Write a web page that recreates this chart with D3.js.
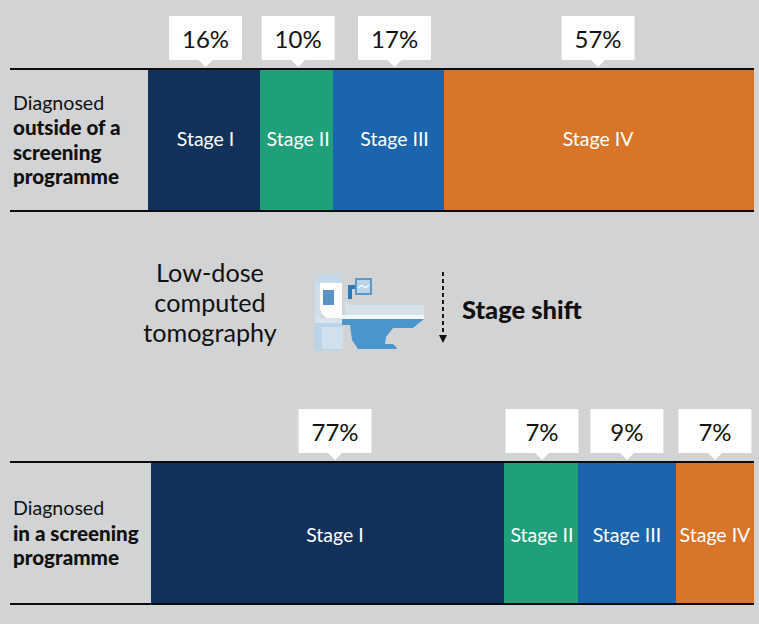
<!DOCTYPE html>
<html><head><meta charset="utf-8">
<script src="https://cdn.jsdelivr.net/npm/d3@7/dist/d3.min.js"></script>
<style>html,body{margin:0;padding:0;background:#d1d3d4}svg{display:block}text{font-family:"Lato","Noto Sans",sans-serif}</style>
</head><body><svg id="c" width="759" height="624"></svg>
<script>
const stages=["Stage I","Stage II","Stage III","Stage IV"];
const stageColors=["#12315a","#20a07a","#1a65ae","#d97528"];
const outsideLabels=[16,10,17,57];
const insideLabels=[77,7,9,7];
// Drawn widths in the picture are not proportional to the labels; these are the drawn shares
const outsideShares=[18.5,12.05,18.3,51.15];
const insideShares=[58.55,12.25,16.25,12.95];

const svg=d3.select("#c");
const W=759,H=624;
svg.append("rect").attr("width",W).attr("height",H).attr("fill","#d1d3d4");

function row(cfg){
  const x=d3.scaleLinear().domain([0,100]).range([cfg.x0,754]);
  const y=d3.scaleLinear().domain([0,1]).range([cfg.top,cfg.bottom]);
  let cum=0;
  const segs=cfg.shares.map((s,i)=>{const a=cum;cum+=s;return{a,b:cum,i,label:cfg.labels[i]};});
  const mid=d=>(x(d.a)+x(d.b))/2+cfg.shift[d.i];
  const g=svg.append("g");
  g.selectAll("rect.seg").data(segs).join("rect").attr("class","seg")
    .attr("x",d=>Math.round(x(d.a))).attr("width",d=>Math.round(x(d.b))-Math.round(x(d.a)))
    .attr("y",y(0)).attr("height",y(1)-y(0))
    .attr("fill",d=>stageColors[d.i]);
  g.selectAll("line.rule").data([0,1]).join("line").attr("class","rule")
    .attr("x1",10).attr("x2",754).attr("y1",d=>y(d)).attr("y2",d=>y(d))
    .attr("stroke","#0b0b0b").attr("stroke-width",2);
  g.selectAll("text.stage").data(segs).join("text").attr("class","stage")
    .attr("x",mid).attr("y",cfg.labelY)
    .attr("text-anchor","middle").attr("fill","#fff").attr("font-size",19.5)
    .text(d=>stages[d.i]);
  const bw=73,bh=44;
  const call=g.selectAll("g.call").data(segs).join("g").attr("class","call")
    .attr("transform",d=>`translate(${mid(d)},${cfg.top-8})`);
  call.append("path").attr("fill","#fff")
    .attr("d",`M${-bw/2},${-bh-1}H${bw/2}V-1H7L0,6L-7,-1H${-bw/2}Z`);
  call.append("text").attr("y",-13).attr("text-anchor","middle")
    .attr("fill","#111").attr("font-size",24).text(d=>d.label+"%");
}
row({x0:148,top:69,bottom:211,labelY:146,shift:[1.5,1.5,6,-1],labels:outsideLabels,shares:outsideShares});
row({x0:151,top:462,bottom:604,labelY:542,shift:[7.5,1,0,0],labels:insideLabels,shares:insideShares});

function lines(x,arr,anchor,size,bsize){
  arr.forEach(l=>svg.append("text").attr("x",x).attr("y",l.y).attr("text-anchor",anchor||"start")
    .attr("font-size",l.b&&bsize?bsize:size).attr("font-weight",l.b?900:400).attr("fill","#111").text(l.t));
}
lines(13,[{t:"Diagnosed",y:110},{t:"outside of a",y:135,b:1},{t:"screening",y:160,b:1},{t:"programme",y:184,b:1}],"start",19.6,20.6);
lines(13,[{t:"Diagnosed",y:515},{t:"in a screening",y:541,b:1},{t:"programme",y:565,b:1}],"start",19.6,20.6);
lines(210,[{t:"Low-dose",y:282},{t:"computed",y:312},{t:"tomography",y:342}],"middle",25.2);
lines(462,[{t:"Stage shift",y:319,b:1}],"start",25.5,25.5);

// Stage-shift arrow
svg.append("line").attr("x1",443).attr("x2",443).attr("y1",272).attr("y2",336)
  .attr("stroke","#111").attr("stroke-width",1.9).attr("stroke-dasharray","4 3");
svg.append("path").attr("d","M439,335H447L443,343Z").attr("fill","#111");

// Scanner icon
const icon=svg.append("g");
const shapes=[
 ["M315,283Q315,274 321,274H338Q342,274 342,283Z","#c6d9ea"],
 ["M315,283H321V319H315Z","#cfdfec"],
 ["M320,283H342V318H328Q320,316 320,306Z","#ffffff"],
 ["M315,318H344V323H315Z","#d9e4ee"],
 ["M314,323H343V350H314Z","#bdd4e8"],
 ["M322,327H343V349H322Z","#d0e0ed"],
 ["M323,290H334V305H323Z","#5b93c5"],
 ["M345,300L350,305H424V315H345Z","#d6e2ea"],
 ["M342,315H424V319H342Z","#f4f7f9"],
 ["M342,319H424L413,328H393L386,337L385,344H393L397,348L396,349H358L352,340L350,325H342Z","#4a95cc"],
 ["M348,285H355V289H352V299H348Z","#2a7ab8"],
 ["M355,278H372V295H355Z","#5b9ac9"],
 ["M357,280H370V293H357Z","#b8d4ea"]
];
icon.selectAll("path").data(shapes).join("path").attr("d",d=>d[0]).attr("fill",d=>d[1]);
icon.append("path").attr("d","M358,288L362,285L365,288L369,285").attr("fill","none").attr("stroke","#fff").attr("stroke-width",1.2);
</script></body></html>
